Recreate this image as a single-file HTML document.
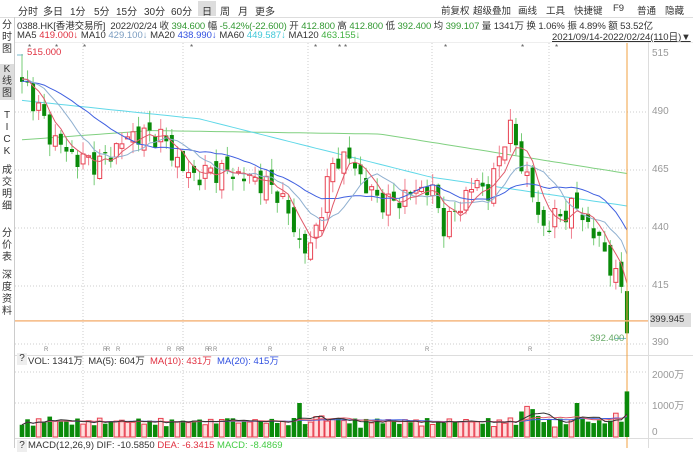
<!DOCTYPE html>
<html><head><meta charset="utf-8"><style>
body{margin:0;width:693px;height:448px;overflow:hidden;background:#fff;font-family:"Liberation Sans","Noto Sans CJK SC",sans-serif;font-size:10px;color:#333;position:relative}
.a{position:absolute;white-space:nowrap}
.tab{position:absolute;top:3px;font-size:10px}
.tr{position:absolute;top:3px;font-size:9.5px}
.side{position:absolute;left:1px;width:12px;font-size:10px;line-height:12px;text-align:center;color:#333}
</style></head><body>
<svg id="s" width="693" height="448" style="position:absolute;left:0;top:0"></svg>
<div class="a" style="left:198px;top:1px;width:18px;height:15px;background:#ddd"></div>
<span class="tab" style="left:18px">分时</span><span class="tab" style="left:43px">多日</span><span class="tab" style="left:70px">1分</span><span class="tab" style="left:94px">5分</span><span class="tab" style="left:116px">15分</span><span class="tab" style="left:144px">30分</span><span class="tab" style="left:171px">60分</span><span class="tab" style="left:202px">日</span><span class="tab" style="left:220px">周</span><span class="tab" style="left:238px">月</span><span class="tab" style="left:255px">更多</span>
<span class="tr" style="left:441px">前复权</span><span class="tr" style="left:473px">超级叠加</span><span class="tr" style="left:518px">画线</span><span class="tr" style="left:546px">工具</span><span class="tr" style="left:574px">快捷键</span><span class="tr" style="left:613px">F9</span><span class="tr" style="left:637px">普通</span><span class="tr" style="left:665px">隐藏</span>
<div class="a" style="left:17px;top:18px;font-size:9.5px;letter-spacing:-0.1px">0388.HK[香港交易所] &nbsp;2022/02/24 收 <span style="color:#393">394.600</span> 幅 <span style="color:#393">-5.42%(-22.600)</span> 开 <span style="color:#393">412.800</span> 高 <span style="color:#393">412.800</span> 低 <span style="color:#393">392.400</span> 均 <span style="color:#393">399.107</span> 量 1341万 换 1.06% 振 4.89% 额 53.52亿</div>
<div class="a" style="left:17px;top:30px;font-size:9.5px">MA5 <span style="color:#e03040">419.000↓</span> MA10 <span style="color:#7a9cc0">429.100↓</span> MA20 <span style="color:#3050e0">438.990↓</span> MA60 <span style="color:#40c8d8">449.587↓</span> MA120 <span style="color:#40b040">463.155↓</span></div>
<div class="a" style="left:552px;top:29px;font-size:9.5px;text-decoration:underline">2021/09/14-2022/02/24(110日)▼</div>
<div class="a" style="left:27px;top:47px;color:#e03040;font-size:9.5px">515.000</div>
<div class="a" style="left:590px;top:333px;color:#6a6;font-size:9.5px">392.400</div>
<div class="a" style="left:650px;top:313px;width:41px;height:14px;background:#ddd;font-size:9.5px;line-height:14px">399.945</div>
<div class="a" style="left:652px;top:48px;color:#999">515</div><div class="a" style="left:652px;top:106px;color:#999">490</div><div class="a" style="left:652px;top:164px;color:#999">465</div><div class="a" style="left:652px;top:222px;color:#999">440</div><div class="a" style="left:652px;top:280px;color:#999">415</div><div class="a" style="left:652px;top:337px;color:#999">390</div>
<div class="a" style="left:652px;top:366px;color:#999">2000万</div><div class="a" style="left:652px;top:397px;color:#999">1000万</div><div class="a" style="left:652px;top:427px;color:#999">0</div>
<div class="a" style="left:17px;top:353px;width:10px;height:12px;background:#eee;text-align:center">?</div>
<div class="a" style="left:28px;top:353px;font-size:9.5px">VOL: 1341万 &nbsp;MA(5): 604万 &nbsp;<span style="color:#e03040">MA(10): 431万</span> &nbsp;<span style="color:#3050e0">MA(20): 415万</span></div>
<div class="a" style="left:17px;top:440px;width:10px;height:12px;background:#eee;text-align:center">?</div>
<div class="a" style="left:28px;top:440px;font-size:9.5px">MACD(12,26,9) DIF: -10.5850 <span style="color:#e03040">DEA: -6.3415</span> <span style="color:#4c4">MACD: -8.4869</span></div>
<div class="side" style="top:20px">分<br>时<br>图</div>
<div class="side" style="top:64px;background:#ddd;left:0;width:14px;height:36px">K<br>线<br>图</div>
<div class="side" style="top:110px">T<br>I<br>C<br>K</div>
<div class="side" style="top:165px">成<br>交<br>明<br>细</div>
<div class="side" style="top:228px">分<br>价<br>表</div>
<div class="side" style="top:270px">深<br>度<br>资<br>料</div>
<script>
const S=document.getElementById('s');let h='';
const L=(x1,y1,x2,y2,c,d,w)=>h+=`<line x1="${x1}" y1="${y1}" x2="${x2}" y2="${y2}" stroke="${c}" stroke-width="${w||1}" ${d?'stroke-dasharray="1,2"':''}/>`;
L(0,17.5,693,17.5,'#ddd');L(14.5,17,14.5,448,'#ccc');L(15,42.5,693,42.5,'#eee');
L(648.5,42,648.5,448,'#ddd');L(15,355.5,693,355.5,'#ddd');L(15,438.5,693,438.5,'#ddd');
const Y=p=>112+(490-p)*2.32;
[490,465,440,415,390].forEach(p=>L(15,Y(p),648,Y(p),'#ccc',1));
[403,372].forEach(y=>L(15,y,648,y,'#ccc',1));
[83,183,308,432,549].forEach(x=>L(x,43,x,438,'#ccc',1));
[28,55,83,190,314,338,344,444,521,555].forEach(x=>h+=`<text x="${x}" y="50" font-size="8" fill="#555">*</text>`);
[44,103,106,116,167,176,180,205,208,213,268,323,332,340,425,528].forEach(x=>h+=`<text x="${x}" y="351" font-size="6" fill="#888">R</text>`);
const K=[[22,505],[40,490],[50,480],[75,470],[100,468],[130,480],[160,480],[175,470],[190,462],[220,465],[260,460],[280,455],[300,433],[310,430],[322,450],[335,470],[350,470],[370,455],[390,450],[410,455],[430,458],[445,440],[460,450],[475,460],[490,455],[505,480],[512,483],[520,468],[530,460],[540,440],[560,445],[575,450],[590,440],[605,430],[615,418],[621,415]];
const N=110,st=5.55,X=i=>22+i*st;
function interp(x){for(let k=0;k<K.length-1;k++)if(x<=K[k+1][0]){const t=(x-K[k][0])/(K[k+1][0]-K[k][0]);return K[k][1]+t*(K[k+1][1]-K[k][1]);}return K[K.length-1][1];}
let C=[],O=[],H=[],Lo=[];
for(let i=0;i<N;i++){let x=X(i);let c=interp(x)+Math.sin(i*2.3)*3.5+Math.cos(i*1.7)*2;let o=(i?C[i-1]:500)+Math.sin(i*3.1)*3;
if(i==0){o=505;c=503}
if(i==N-1){o=412.8;c=394.6}
C.push(c);O.push(o);H.push(Math.max(o,c)+Math.abs(Math.sin(i*1.3))*5);Lo.push(Math.min(o,c)-Math.abs(Math.cos(i*1.9))*5);}
H[0]=515;H[N-1]=412.8;Lo[N-1]=392.4;
const all=Array(20).fill(0).map((_,k)=>505-k*0.2).reverse().concat(C);
function ma(n){return C.map((_,i)=>{let s=0;for(let j=0;j<n;j++)s+=all[i+20-j];return s/n})}
function pl(arr,c){h+=`<polyline fill="none" stroke="${c}" stroke-width="1" points="${arr.map((v,i)=>X(i).toFixed(1)+','+Y(v).toFixed(1)).join(' ')}"/>`}
const m60=C.map((_,i)=>{let x=X(i);return x<200?495-(x-22)/178*8:x<430?487-(x-200)/230*25:462-(x-430)/197*12.5});
const m120=C.map((_,i)=>{let x=X(i);return x<150?478+(x-22)/128*4:x<380?482-(x-150)/230*1.5:480.5-(x-380)/247*17});
pl(m120,'#80d080');pl(m60,'#60d8e8');
for(let i=0;i<N;i++){let x=X(i),up=C[i]>=O[i],col=up?'#e84050':'#0a8a0a';
L(x,Y(H[i]),x,Y(Lo[i]),up?'#f08090':'#7c7');
let y1=Y(Math.max(O[i],C[i])),y2=Y(Math.min(O[i],C[i]));if(y2-y1<1)y2=y1+1;
h+=`<rect x="${x-2}" y="${y1}" width="4" height="${y2-y1}" fill="${up?'#fff':col}" stroke="${col}" stroke-width="${up?1:0}"/>`;}
pl(ma(20),'#4060e0');pl(ma(10),'#8fb0d0');pl(ma(5),'#e05a6a');
L(15,Y(399.945),648,Y(399.945),'#f5b880',0,1.5);L(627,43,627,448,'#f0a040');
L(17,Y(515)+1,23,Y(515)+1,'#7bc');L(615,Y(392.4),626,Y(392.4),'#7bc');
let V=[];for(let i=0;i<N;i++){let v=260+Math.abs(Math.sin(i*1.7))*200+Math.abs(Math.cos(i*0.9))*100;V.push(v)}
const sp={5:600,37:550,50:1000,51:380,53:600,54:620,57:560,64:540,88:560,90:750,91:900,92:820,93:620,100:1000,105:400,107:700,108:450,109:1341};
for(const k in sp)V[k]=sp[k];
const VY=v=>437-v*0.034;
for(let i=0;i<N;i++){let x=X(i),up=C[i]>=O[i],col=up?'#e84050':'#0a8a0a';
h+=`<rect x="${x-2.3}" y="${VY(V[i])}" width="4.6" height="${437-VY(V[i])}" fill="${up?'#fdd':col}" stroke="${col}" stroke-width="${up?1:0}"/>`;}
function vma(n,c){h+=`<polyline fill="none" stroke="${c}" points="${V.map((_,i)=>{let s=0,m=0;for(let j=0;j<n&&i-j>=0;j++){s+=V[i-j];m++}return X(i).toFixed(1)+','+VY(s/m).toFixed(1)}).join(' ')}"/>`}
vma(20,'#4060e0');vma(10,'#e05a6a');vma(5,'#333');
S.innerHTML=h;
</script>
</body></html>
